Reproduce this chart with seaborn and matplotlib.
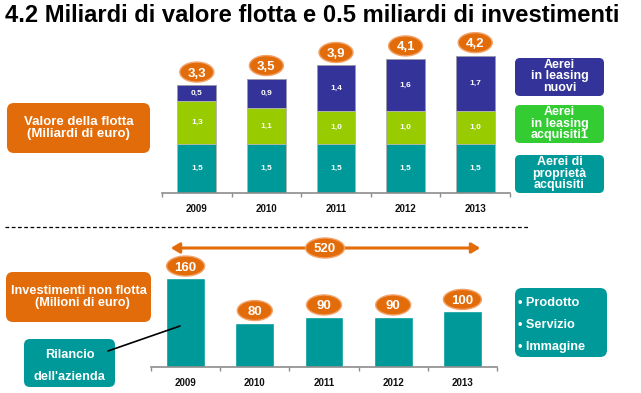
import numpy as np
import pandas as pd
import matplotlib
matplotlib.use("Agg")
import matplotlib.pyplot as plt
import seaborn as sns
from matplotlib.patches import FancyBboxPatch, FancyArrowPatch, Ellipse
from matplotlib.lines import Line2D
from matplotlib.transforms import ScaledTranslation
from matplotlib import font_manager

# ---------------- data ----------------
years = ["2009", "2010", "2011", "2012", "2013"]
owned = [1.5, 1.5, 1.5, 1.5, 1.5]          # Aerei di proprietà acquisiti
leased_acq = [1.3, 1.1, 1.0, 1.0, 1.0]     # Aerei in leasing acquisiti
leased_new = [0.5, 0.9, 1.4, 1.6, 1.7]     # Aerei in leasing nuovi
fleet_total_labels = ["3,3", "3,5", "3,9", "4,1", "4,2"]
owned_labels = ["1,5", "1,5", "1,5", "1,5", "1,5"]
leased_acq_labels = ["1,3", "1,1", "1,0", "1,0", "1,0"]
leased_new_labels = ["0,5", "0,9", "1,4", "1,6", "1,7"]
invest = [160, 80, 90, 90, 100]
invest_total = 520

sns.set_theme(style="white")
avail = {f.name for f in font_manager.fontManager.ttflist}
base = "Liberation Sans" if "Liberation Sans" in avail else "DejaVu Sans"
title_font = "Liberation Sans Narrow" if "Liberation Sans Narrow" in avail else base
plt.rcParams["font.family"] = [base, "DejaVu Sans"]

W, H, DPI = 641, 393, 100
fig = plt.figure(figsize=(W / DPI, H / DPI), dpi=DPI)

NAVY = "#333399"
LIME = "#99CC00"
TEAL = "#009999"
ORANGE = "#E36C0A"
OEDGE = "#F2A36A"
LGREEN = "#33CC33"

def ax_rect(l, r, b, t):
    return [l / W, (H - b) / H, (r - l) / W, (b - t) / H]

def box(x0, y0, x1, y1, color, r=6):
    p = FancyBboxPatch((x0 / DPI, (H - y1) / DPI), (x1 - x0) / DPI, (y1 - y0) / DPI,
                       boxstyle=f"round,pad=0,rounding_size={r / DPI}",
                       transform=fig.dpi_scale_trans, fc=color, ec="none", zorder=3)
    fig.add_artist(p)

def ftext(x, y, s, size=9, ha="center", ls=1.0, **kw):
    fig.text(x / W, 1 - y / H, s, ha=ha, va="center", color="white", fontsize=size,
             fontweight="bold", linespacing=ls, zorder=5, **kw)

def oval(ax, x, y, dy_px, label, w_px=34, h_px=20, size=9):
    """Orange oval label centred dy_px pixels above the data point (x, y)."""
    tr = fig.dpi_scale_trans + ScaledTranslation(x, y, ax.transData)
    e = Ellipse((0, dy_px / DPI), w_px / DPI, h_px / DPI, transform=tr, fc=ORANGE, ec=OEDGE,
                lw=1, zorder=6, clip_on=False)
    ax.add_artist(e)
    ax.annotate(label, xy=(x, y), xytext=(0, dy_px * 72 / DPI), textcoords="offset points",
                ha="center", va="center_baseline", color="white", fontsize=size, fontweight="bold",
                annotation_clip=False, zorder=7)

# ---------------- title (fit to the reference width) ----------------
title = fig.text(5 / W, 1 - 16 / H, "4.2 Miliardi di valore flotta e 0.5 miliardi di investimenti",
                 ha="left", va="center", fontsize=18, fontweight="bold",
                 family=[title_font, "DejaVu Sans"], color="black")
renderer = fig.canvas.get_renderer()
tw = title.get_window_extent(renderer).width
title.set_fontsize(18 * 614 / tw)

# ---------------- top stacked chart ----------------
ax1 = fig.add_axes(ax_rect(162, 510, 193, 40))
tot = np.array(owned) + np.array(leased_acq) + np.array(leased_new)
mid = np.array(owned) + np.array(leased_acq)
df_top = pd.DataFrame({"year": years, "total": tot, "mid": mid, "owned": owned})
sns.barplot(data=df_top, x="year", y="total", color=NAVY, saturation=1, width=0.56, ax=ax1,
            edgecolor="#9999aa", linewidth=0.6)
sns.barplot(data=df_top, x="year", y="mid", color=LIME, saturation=1, width=0.56, ax=ax1,
            edgecolor="#bbbbbb", linewidth=0.6)
sns.barplot(data=df_top, x="year", y="owned", color=TEAL, saturation=1, width=0.56, ax=ax1,
            edgecolor="#bbbbbb", linewidth=0.6)
ax1.set_xlim(-0.5, 4.5)
ax1.set_ylim(0, 153 / 32.7)
for i in range(len(years)):
    ax1.text(i, owned[i] / 2, owned_labels[i], ha="center", va="center", color="white",
             fontsize=6, fontweight="bold")
    ax1.text(i, owned[i] + leased_acq[i] / 2, leased_acq_labels[i], ha="center", va="center",
             color="white", fontsize=6, fontweight="bold")
    ax1.text(i, mid[i] + leased_new[i] / 2, leased_new_labels[i], ha="center", va="center",
             color="white", fontsize=6, fontweight="bold")
    oval(ax1, i, tot[i], 13, fleet_total_labels[i], w_px=34, h_px=20, size=9.5)

# ---------------- bottom chart ----------------
ax2 = fig.add_axes(ax_rect(151, 497, 367, 245))
df_bot = pd.DataFrame({"year": years, "invest": invest})
sns.barplot(data=df_bot, x="year", y="invest", color=TEAL, saturation=1, width=0.56, ax=ax2)
ax2.set_xlim(-0.5, 4.5)
ax2.set_ylim(0, 122 / 0.556)
for i in range(len(years)):
    oval(ax2, i, invest[i], 12, str(invest[i]), w_px=38 if invest[i] >= 100 else 35,
         h_px=20, size=9.5)

for ax in (ax1, ax2):
    ax.set_xlabel("")
    ax.set_ylabel("")
    ax.set_yticks([])
    for s in ("left", "right", "top"):
        ax.spines[s].set_visible(False)
    ax.spines["bottom"].set_color("#8c8c8c")
    ax.spines["bottom"].set_linewidth(1.2)
    ax.set_facecolor("none")
    ax.set_xticks(np.arange(-0.5, 5.0, 1.0), minor=True)
    ax.tick_params(axis="x", which="minor", length=3, color="#8c8c8c", width=1, direction="out",
                   bottom=True)
    ax.tick_params(axis="x", which="major", length=0, pad=8, labelsize=7, labelcolor="#111111")
    for lab in ax.get_xticklabels():
        lab.set_fontweight("bold")

# ---------------- side boxes ----------------
box(7, 103, 150, 153, ORANGE, r=7)
ftext(78.5, 128, "Valore della flotta\n(Miliardi di euro)", size=9.5)

box(515, 58, 604, 96, NAVY, r=5)
ftext(559.5, 76.5, "Aerei\nin leasing\nnuovi", size=9, ls=0.95)
box(515, 105, 604, 143, LGREEN, r=5)
ftext(559.5, 123.5, "Aerei\nin leasing\nacquisiti1", size=9, ls=0.95)
box(515, 155, 604, 193, TEAL, r=5)
ftext(559.5, 173.5, "Aerei di\nproprietà\nacquisiti", size=9, ls=0.95)

# dashed separator
fig.add_artist(Line2D([5 / W, 530 / W], [1 - 227 / H, 1 - 227 / H], transform=fig.transFigure,
                      color="black", lw=0.9, linestyle=(0, (3, 2))))

# arrow with total
arrow = FancyArrowPatch((168 / DPI, (H - 248) / DPI), (483 / DPI, (H - 248) / DPI),
                        transform=fig.dpi_scale_trans, arrowstyle="<|-|>,head_length=5,head_width=3",
                        mutation_scale=1, color=ORANGE, lw=2.2, zorder=3)
fig.add_artist(arrow)
fig.add_artist(Ellipse((325 / DPI, (H - 248) / DPI), 39 / DPI, 20 / DPI,
                       transform=fig.dpi_scale_trans, fc=ORANGE, ec=OEDGE, lw=1, zorder=5))
fig.text(325 / W, 1 - 248 / H, str(invest_total), ha="center", va="center_baseline",
         color="white", fontsize=9.5, fontweight="bold", zorder=6)

box(6, 272, 151, 322, ORANGE, r=7)
ftext(78.5, 297, "Investimenti non flotta\n  (Milioni di euro)", size=9.2)

box(24, 339, 115, 387, TEAL, r=6)
ftext(69.5, 355, "Rilancio", size=9.2)
ftext(69.5, 377, "dell'azienda", size=9.2)

fig.add_artist(Line2D([108 / W, 180 / W], [1 - 351 / H, 1 - 326 / H], transform=fig.transFigure,
                      color="black", lw=1.2, zorder=6))

box(515, 288, 607, 357, TEAL, r=7)
for yy, s in zip([303, 325, 347], ["• Prodotto", "• Servizio", "• Immagine"]):
    ftext(518, yy, s, size=9.2, ha="left")

fig.savefig("out.png", dpi=DPI)
